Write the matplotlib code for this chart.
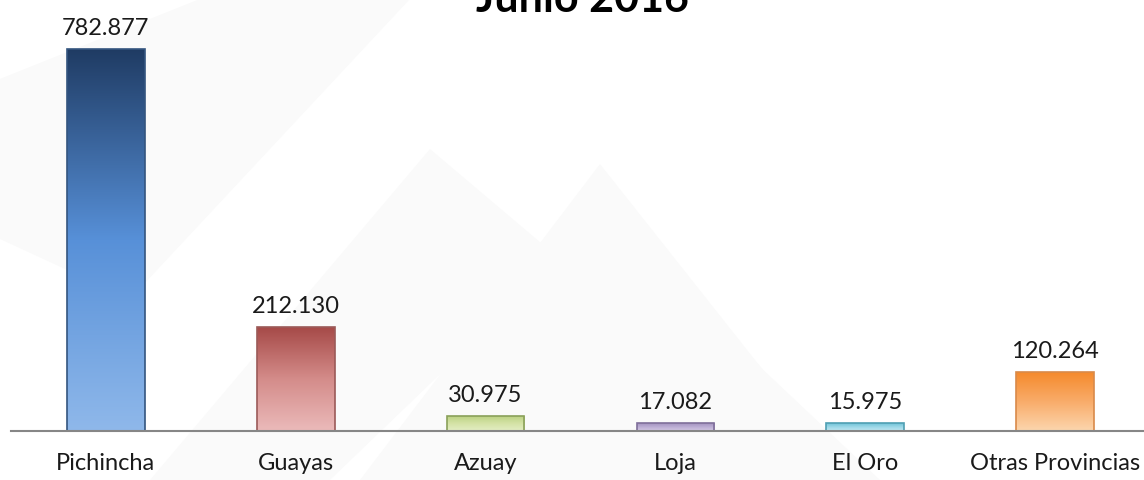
import matplotlib
matplotlib.use("Agg")
import matplotlib.pyplot as plt
import numpy as np
from matplotlib.colors import LinearSegmentedColormap
from matplotlib.patches import Polygon

plt.rcParams['font.family'] = ['Lato', 'DejaVu Sans']

categories = ["Pichincha", "Guayas", "Azuay", "Loja", "El Oro", "Otras Provincias"]
values = [782.877, 212.130, 30.975, 17.082, 15.975, 120.264]
labels = ["782.877", "212.130", "30.975", "17.082", "15.975", "120.264"]
top_colors = ["#1f3b63", "#a64a48", "#b8cf7e", "#9d8bb8", "#6fc3d8", "#f58a2c"]
mid_colors = ["#5790d8", "#d48c8a", "#d3e2a4", "#b9abd2", "#9dd8e8", "#f9ac6a"]
bottom_colors = ["#8fb8ea", "#ebbaba", "#e4eec4", "#d4c9e4", "#c4eaf3", "#fcd6ae"]
edge_colors = ["#34557f", "#9b5a58", "#8aa05a", "#7f6f9a", "#4f9fb3", "#d98a4a"]

W, H = 1144, 481
fig = plt.figure(figsize=(W / 100, H / 100), dpi=100)
fig.patch.set_facecolor("white")

# faint background watermark shapes
bgax = fig.add_axes([0, 0, 1, 1], zorder=-10)
bgax.set_xlim(0, W)
bgax.set_ylim(H, 0)
bgax.axis("off")
bg = [
    [(0, 80), (200, 0), (410, 0), (130, 300), (0, 240)],
    [(150, 481), (430, 150), (560, 260), (330, 481)],
    [(360, 481), (600, 165), (850, 481)],
    [(600, 481), (720, 330), (880, 481)],
]
for poly in bg:
    bgax.add_patch(Polygon(poly, closed=True, facecolor="#fafafa", edgecolor="none"))

ax = fig.add_axes([11 / W, 1 - 432 / H, 1139 / W, 432 / H])
ax.set_facecolor("none")
x = np.arange(len(categories))
bw = 0.41
ax.set_xlim(-0.5, 5.5)
ax.set_ylim(0, 885.3)

bars = ax.bar(x, values, width=bw, facecolor="none", edgecolor="none", zorder=2)
grad = np.linspace(0, 1, 256).reshape(-1, 1)
for i, b in enumerate(bars):
    cmap = LinearSegmentedColormap.from_list(
        "g", [(0, bottom_colors[i]), (0.5, mid_colors[i]), (1, top_colors[i])])
    x0, y0 = b.get_x(), b.get_y()
    w, h = b.get_width(), b.get_height()
    im = ax.imshow(grad, cmap=cmap, origin="lower", aspect="auto",
                   extent=(x0, x0 + w, y0, y0 + h), zorder=2)
    im.set_clip_path(b)
    ax.add_patch(plt.Rectangle((x0, y0), w, h, facecolor="none",
                               edgecolor=edge_colors[i], linewidth=1.2, zorder=3))
    ax.annotate(labels[i], (x[i], values[i]), xytext=(0, 8), textcoords="offset points",
                ha="center", va="bottom", fontsize=17, color="#1a1a1a", zorder=4)

for s in ["top", "left", "right"]:
    ax.spines[s].set_visible(False)
ax.spines["bottom"].set_color("#868686")
ax.spines["bottom"].set_linewidth(1.5)
ax.spines["bottom"].set_zorder(5)
ax.set_yticks([])
ax.set_xticks(x)
ax.set_xticklabels(categories, fontsize=17, color="#1a1a1a")
ax.tick_params(axis="x", length=0, pad=15)

fig.text(582 / W, 1 - 12 / H, "Junio 2016", ha="center", va="baseline",
         fontsize=31, fontweight="bold", color="black")

fig.savefig("out.png", dpi=100)
